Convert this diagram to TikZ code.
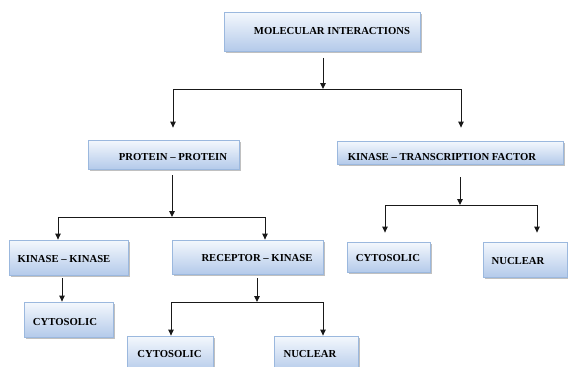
\documentclass[tikz,border=0pt]{standalone}
\usepackage{fontspec}
\setmainfont{Liberation Serif}
\usetikzlibrary{arrows.meta,shadows}
\definecolor{boxtop}{RGB}{244,248,253}
\definecolor{boxbot}{RGB}{180,202,234}
\definecolor{boxline}{RGB}{155,184,222}
\definecolor{linec}{RGB}{25,25,25}
\tikzset{
  box/.style={draw=boxline, line width=0.8pt, top color=boxtop, bottom color=boxbot,
    inner sep=0pt, drop shadow={shadow xshift=1.6pt, shadow yshift=-1.6pt, fill=black!45, opacity=.55}},
  txt/.style={font=\fontsize{10.7}{12}\selectfont\bfseries, text=black, inner sep=0pt},
  conn/.style={draw=linec, line width=1pt},
  arr/.style={conn, -{Triangle[length=6pt,width=5.5pt]}}
}
\begin{document}
\begin{tikzpicture}[x=1pt,y=-1pt]
\useasboundingbox (0,0) rectangle (568,367);
\clip (0,0) rectangle (568,367);
% boxes
\node[box, minimum width=196pt, minimum height=39pt] (mi) at (322,31.5) {};
\node[box, minimum width=151pt, minimum height=29pt] (pp) at (163.5,154.5) {};
\node[box, minimum width=226pt, minimum height=23pt] (ktf) at (450,152.5) {};
\node[box, minimum width=119pt, minimum height=35pt] (kk) at (68.5,257.5) {};
\node[box, minimum width=151pt, minimum height=34pt] (rk) at (247.5,257) {};
\node[box, minimum width=89pt, minimum height=35pt] (c1) at (68.5,319.5) {};
\node[box, minimum width=86pt, minimum height=36pt] (c2) at (170,354) {};
\node[box, minimum width=84pt, minimum height=36pt] (n2) at (316,354) {};
\node[box, minimum width=83pt, minimum height=30pt] (c3) at (388.5,257) {};
\node[box, minimum width=84pt, minimum height=35pt] (n3) at (525,259.5) {};
% texts
\node[txt] (tmi) at (332,31) {MOLECULAR INTERACTIONS};
\node[txt] (tpp) at (173,157) {PROTEIN – PROTEIN};
\node[txt] (tktf) at (442,157) {KINASE – TRANSCRIPTION FACTOR};
\node[txt] (tkk) at (64,259) {KINASE – KINASE};
\node[txt] (trk) at (257,258) {RECEPTOR – KINASE};
\node[txt] (tc1) at (65,322) {CYTOSOLIC};
\node[txt] (tc2) at (169.5,354) {CYTOSOLIC};
\node[txt] (tn2) at (310,354) {NUCLEAR};
\node[txt] (tc3) at (388,258) {CYTOSOLIC};
\node[txt] (tn3) at (518,261) {NUCLEAR};
% junctions
\coordinate (j1) at (323,89);
\coordinate (j1l) at (173,89);
\coordinate (j1r) at (461,89);
\coordinate (j2) at (172,217);
\coordinate (j2l) at (58,217);
\coordinate (j2r) at (265,217);
\coordinate (j3) at (460,205);
\coordinate (j3l) at (385,205);
\coordinate (j3r) at (537,205);
\coordinate (j4) at (257,302);
\coordinate (j4l) at (171,302);
\coordinate (j4r) at (323,302);
% connectors
\draw[arr, shorten <=6.5pt] (mi.south -| j1) -- (j1);
\draw[conn] (j1l) -- (j1r);
\draw[arr, shorten >=12pt] (j1l) -- (pp.north -| j1l);
\draw[arr, shorten >=13pt] (j1r) -- (ktf.north -| j1r);
\draw[arr, shorten <=6pt] (pp.south -| j2) -- (j2);
\draw[conn] (j2l) -- (j2r);
\draw[arr] (j2l) -- (kk.north -| j2l);
\draw[arr] (j2r) -- (rk.north -| j2r);
\draw[arr, shorten <=13pt] (ktf.south -| j3) -- (j3);
\draw[conn] (j3l) -- (j3r);
\draw[arr, shorten >=9pt] (j3l) -- (c3.north -| j3l);
\draw[arr, shorten >=9pt] (j3r) -- (n3.north -| j3r);
\draw[arr, shorten <=3pt] (kk.south -| 62,0) -- (c1.north -| 62,0);
\draw[arr, shorten <=4pt] (rk.south -| j4) -- (j4);
\draw[conn] (j4l) -- (j4r);
\draw[arr] (j4l) -- (c2.north -| j4l);
\draw[arr] (j4r) -- (n2.north -| j4r);
\end{tikzpicture}
\end{document}
